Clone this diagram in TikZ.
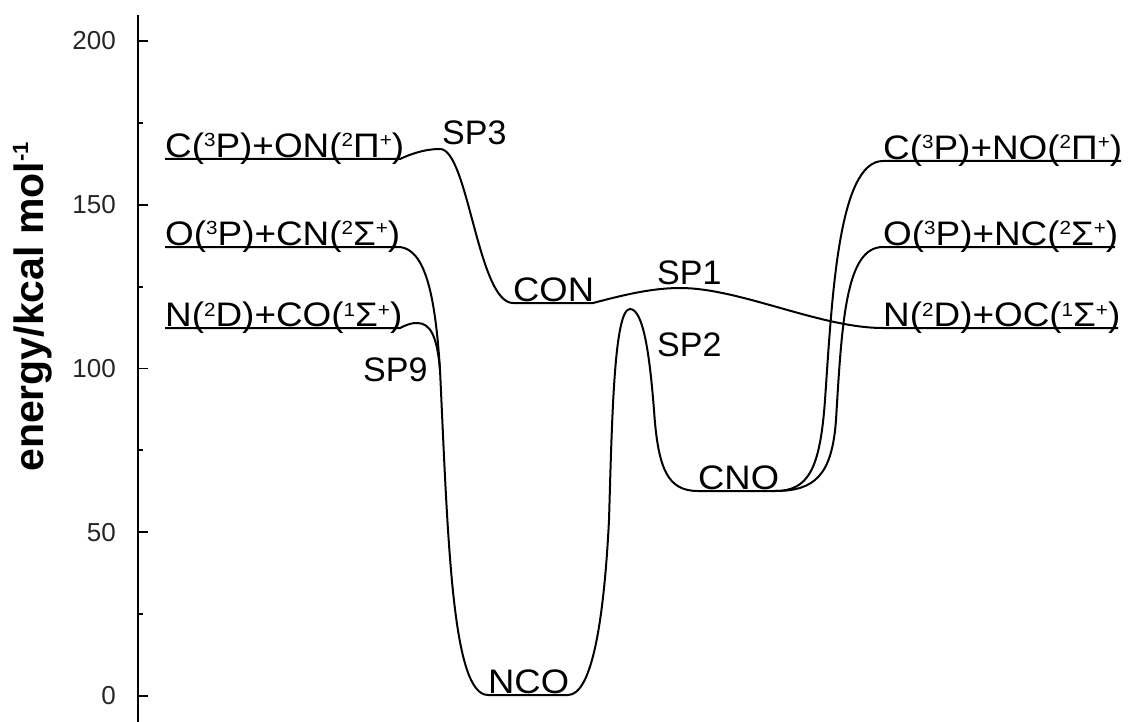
\documentclass[tikz,border=0pt]{standalone}
\usepackage{fontspec}
\setmainfont{Liberation Sans}
% small raised text for term symbols and units
\newcommand\up[1]{\raisebox{10.5pt}{\fontsize{19}{19}\selectfont #1}}
\newcommand\upb[1]{\raisebox{15pt}{\fontsize{22}{22}\selectfont\bfseries #1}}
\begin{document}
\begin{tikzpicture}[x=1pt,y=-1pt,
  pes/.style={line width=2pt},
  axisline/.style={line width=1.9pt},
  lvl/.style={font=\fontsize{34}{34}\selectfont, anchor=base west, inner sep=0pt},
  wide/.style={lvl, xscale=1.085},
  mol/.style={lvl, xscale=1.07},
  ticklab/.style={font=\fontsize{26}{26}\selectfont, text=black!85, anchor=east, inner sep=0pt},
  ylab/.style={font=\fontsize{41}{41}\selectfont\bfseries, rotate=90, anchor=base, inner sep=0pt}]
\useasboundingbox (0,0) rectangle (1135,722);

% energy axis (y = 696 - 3.275 E)
\draw[axisline] (138,15) -- (138,722);
\foreach \e in {0,50,100,150,200}{
  \draw[axisline] (138,{696-3.275*\e}) -- ++(10,0);
  \node[ticklab] (tick\e) at (116,{696-3.275*\e}) {\e};
}
\foreach \e in {25,75,125,175}
  \draw[axisline] (138,{696-3.275*\e}) -- ++(5,0);
\node[ylab] (ylab) at (43,307) {energy/kcal mol\upb{-1}};

% level end points
\coordinate (L1a) at (165,159); \coordinate (L1b) at (400,159);
\coordinate (L2a) at (165,247); \coordinate (L2b) at (400,247);
\coordinate (L3a) at (165,328); \coordinate (L3b) at (400,328);
\coordinate (R1a) at (883,161); \coordinate (R1b) at (1121,161);
\coordinate (R2a) at (883,247); \coordinate (R2b) at (1115,247);
\coordinate (R3a) at (883,328); \coordinate (R3b) at (1118,328);
\coordinate (CONa) at (513,303); \coordinate (CONb) at (593,303);
\coordinate (CNOa) at (698,491); \coordinate (CNOb) at (775,491);
\coordinate (NCOa) at (488,695); \coordinate (NCOb) at (568,695);

% saddle points and junction
\coordinate (sp3) at (440,149);
\coordinate (sp1) at (680,288);
\coordinate (sp2) at (630,309);
\coordinate (sp9) at (417,323);
\coordinate (m9) at (440,370);

% level labels
\node[wide] (tL1) at ([yshift=1.5pt]L1a) {C(\up{3}P)+ON(\up{2}Π\up{+})};
\node[wide] (tL2) at ([yshift=1.5pt]L2a) {O(\up{3}P)+CN(\up{2}Σ\up{+})};
\node[wide] (tL3) at ([yshift=1.5pt]L3a) {N(\up{2}D)+CO(\up{1}Σ\up{+})};
\node[wide] (tR1) at ([yshift=1.5pt]R1a) {C(\up{3}P)+NO(\up{2}Π\up{+})};
\node[wide] (tR2) at ([yshift=1.5pt]R2a) {O(\up{3}P)+NC(\up{2}Σ\up{+})};
\node[wide] (tR3) at ([yshift=1.5pt]R3a) {N(\up{2}D)+OC(\up{1}Σ\up{+})};
\node[mol] (tCON) at ([yshift=1.5pt]CONa) {CON};
\node[mol] (tCNO) at ([yshift=1.5pt]CNOa) {CNO};
\node[mol] (tNCO) at ([yshift=1.5pt]NCOa) {NCO};
\node[lvl] (tSP3) at (442,145) {SP3};
\node[lvl] (tSP1) at (657,284) {SP1};
\node[lvl] (tSP2) at (657,356) {SP2};
\node[lvl] (tSP9) at (363,381) {SP9};

% C + ON -> SP3 -> CON -> SP1 -> N + OC
\draw[pes] (L1a) -- (L1b) .. controls (415,152) and (428,149) .. (sp3)
  .. controls (468,149) and (478,303) .. (CONa) -- (CONb)
  .. controls (620,296) and (650,288) .. (sp1)
  .. controls (740,288) and (820,328) .. (R3a) -- (R3b);

% NCO -> SP2 -> CNO -> C + NO
\draw[pes] (NCOa) -- (NCOb) .. controls (592,695) and (604,620) .. (609,520)
  .. controls (612,420) and (614,309) .. (sp2)
  .. controls (644,309) and (650,360) .. (654,410)
  .. controls (658,470) and (668,491) .. (CNOa) -- (CNOb)
  .. controls (808,491) and (820,470) .. (825,400)
  .. controls (832,300) and (838,161) .. (R1a) -- (R1b);

% CNO -> O + NC
\draw[pes] (CNOb) .. controls (815,491) and (832,475) .. (836,420)
  .. controls (842,320) and (846,247) .. (R2a) -- (R2b);

% O + CN -> NCO
\draw[pes] (L2a) -- (L2b) .. controls (424,250) and (435,290) .. (m9)
  .. controls (448,540) and (452,695) .. (NCOa);

% N + CO -> SP9 -> joins the O + CN path
\draw[pes] (L3a) -- (L3b) .. controls (408,324) and (412,323) .. (sp9)
  .. controls (430,323) and (437,335) .. (m9);
\end{tikzpicture}
\end{document}
